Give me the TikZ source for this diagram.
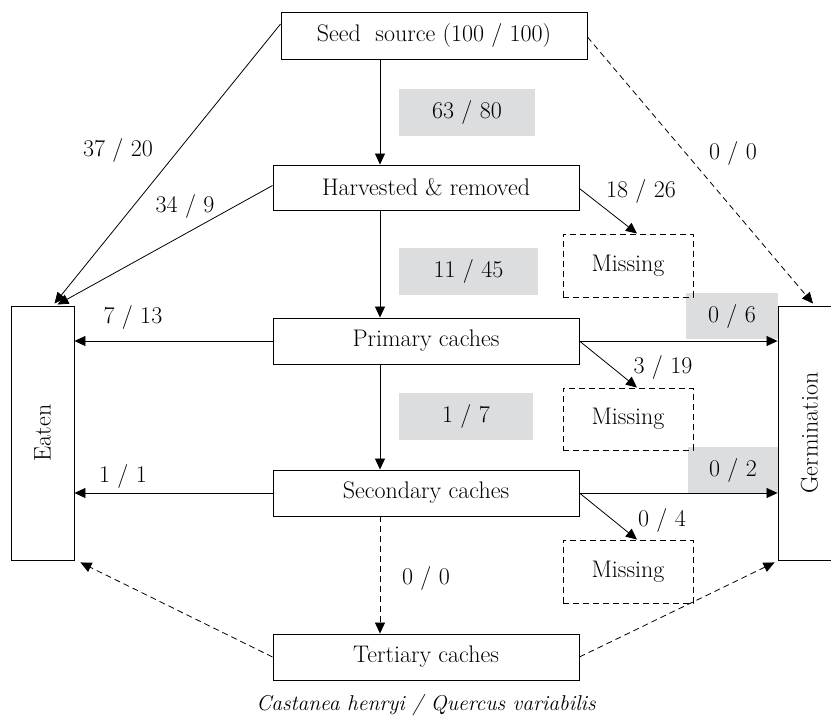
\documentclass[tikz,border=0pt]{standalone}
\usetikzlibrary{arrows.meta,calc}
\definecolor{lblgray}{RGB}{220,221,222}
\begin{document}
\begin{tikzpicture}[x=1pt,y=-1pt,
  font=\fontsize{24}{28}\selectfont,
  box/.style={draw, line width=0.9pt, minimum width=306pt, minimum height=46pt, inner sep=0pt},
  sidebox/.style={draw, line width=0.9pt, minimum width=63pt, minimum height=254pt, inner sep=0pt},
  missbox/.style={draw, line width=0.9pt, dash pattern=on 6pt off 4pt, minimum width=130pt, minimum height=62pt, inner sep=0pt},
  gbox/.style={fill=lblgray, minimum height=47pt, inner sep=0pt},
  lbl/.style={inner sep=0pt},
  arr/.style={-{Triangle[length=11pt,width=10pt]}, line width=0.8pt},
  darr/.style={arr, dash pattern=on 6pt off 4pt}]
\clip (0,0) rectangle (831,718);
\useasboundingbox (0,0) rectangle (831,718);
% gray label boxes
\node[gbox, minimum width=136pt] (g1) at (467,112) {63 / 80};
\node[gbox, minimum width=139pt] (g2) at (468.5,271.5) {11 / 45};
\node[gbox, minimum width=134pt] (g3) at (466,416) {1 / 7};
\node[gbox, minimum width=92pt, minimum height=46pt] (g4) at (732,316) {0 / 6};
\node[gbox, minimum width=90pt, minimum height=46pt] (g5) at (733,470) {0 / 2};
% main boxes
\node[box, minimum height=47pt] (seed) at (434,35.5) {Seed\ \ source (100 / 100)};
\node[box, minimum height=45pt] (harv) at (426,187.5) {Harvested \& removed};
\node[box] (prim) at (426,341) {Primary caches};
\node[box] (sec) at (426,493) {Secondary caches};
\node[box] (tert) at (426,657) {Tertiary caches};
\node[sidebox] (eaten) at (42.5,433) {};
\node[rotate=90] (eatentxt) at (eaten.center) {Eaten};
\node[sidebox] (germ) at (809.5,433) {};
\node[rotate=90] (germtxt) at (germ.center) {Germination};
\node[missbox, minimum height=63pt] (m1) at (628,265.5) {Missing};
\node[missbox] (m2) at (628,419) {Missing};
\node[missbox, minimum height=63pt] (m3) at (628,571.5) {Missing};
\coordinate (xc) at (380,0);
% vertical flow
\draw[arr] (seed.south -| xc) -- (harv.north -| xc);
\draw[arr] (harv.south -| xc) -- (prim.north -| xc);
\draw[arr] (prim.south -| xc) -- (sec.north -| xc);
\draw[darr] (sec.south -| xc) -- (tert.north -| xc);
% to eaten
\draw[arr] ([yshift=11.5pt]seed.west) -- ([xshift=12pt,yshift=2pt]eaten.north);
\draw[arr] ([yshift=2pt]harv.west) -- ([xshift=15pt,yshift=1pt]eaten.north);
\draw[arr] (prim.west) -- (prim.west -| eaten.east);
\draw[arr] (sec.west) -- (sec.west -| eaten.east);
\draw[darr] (tert.west) -- ([xshift=6pt,yshift=-2pt]eaten.south east);
% to germination
\draw[darr] ([yshift=-1.5pt]seed.east) -- ([xshift=3.5pt,yshift=2pt]germ.north);
\draw[arr] (prim.east) -- (prim.east -| germ.west);
\draw[arr] (sec.east) -- (sec.east -| germ.west);
\draw[darr] (tert.east) -- ([xshift=-3pt,yshift=-2pt]germ.south west);
% to missing
\draw[arr] ([yshift=-1pt]harv.east) -- ([xshift=9pt]m1.north);
\draw[arr] (prim.east) -- ([xshift=9pt]m2.north);
\draw[arr] (sec.east) -- ([xshift=9pt]m3.north);
% labels
\node[lbl] (l1) at (118,150) {37 / 20};
\node[lbl] (l2) at (185,206) {34 / 9};
\node[lbl] (l3) at (641,191) {18 / 26};
\node[lbl] (l4) at (733,153) {0 / 0};
\node[lbl] (l5) at (133,317) {7 / 13};
\node[lbl] (l6) at (123,476) {1 / 1};
\node[lbl] (l7) at (663,367) {3 / 19};
\node[lbl] (l8) at (662,520) {0 / 4};
\node[lbl] (l9) at (426,578) {0 / 0};
\node[lbl, font=\fontsize{21.5}{25}\selectfont\itshape] (cap) at (426,705) {Castanea henryi / Quercus variabilis};
\end{tikzpicture}
\end{document}
